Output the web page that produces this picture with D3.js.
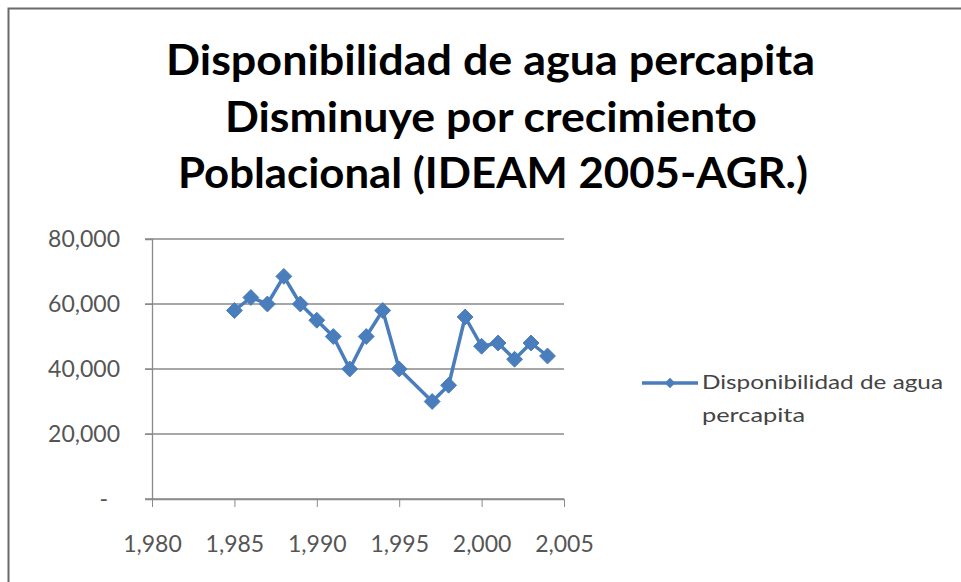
<!DOCTYPE html>
<html>
<head>
<meta charset="utf-8">
<script src="https://cdn.jsdelivr.net/npm/d3@7"></script>
<style>
  body { margin: 0; background: #fff; }
  svg { display: block; }
</style>
</head>
<body>
<div class="svg-container"></div>
<script>
(function () {

	"use strict";

	// data
	var years = [1985, 1986, 1987, 1988, 1989, 1990, 1991, 1992, 1993, 1994, 1995, 1997, 1998, 1999, 2000, 2001, 2002, 2003, 2004];
	var values = [58000, 62000, 60000, 68500, 60000, 55000, 50000, 40000, 50000, 58000, 40000, 30000, 35000, 56000, 47000, 48000, 43000, 48000, 44000];
	var x_ticks = [1980, 1985, 1990, 1995, 2000, 2005];
	var y_ticks = [0, 20000, 40000, 60000, 80000];
	var title_lines = ["Disponibilidad de agua percapita", "Disminuye por crecimiento", "Poblacional (IDEAM 2005-AGR.)"];
	var legend_lines = ["Disponibilidad de agua", "percapita"];

	var width = 961, height = 582,
		plot = { "left": 152, "right": 564, "top": 239, "bottom": 499 },
		blue = "#4a7dbb",
		grid = "#8a8a8a",
		font = "Lato, 'Open Sans', sans-serif";

	// title line placement (left edge, baseline, width) measured on the picture
	var title_pos = [[166, 75, 649], [225, 132, 532], [178, 188, 630]];

	var svg = d3.select(".svg-container").append("svg")
		.attr("width", width)
		.attr("height", height);

	// frame
	svg.append("rect")
		.attr("x", 8.5).attr("y", 8.5)
		.attr("width", width + 10).attr("height", height + 10)
		.attr("fill", "#fff")
		.attr("stroke", "#6a6a6a")
		.attr("stroke-width", 2);

	svg.selectAll(".title")
		.data(title_lines)
		.enter()
		.append("text")
		.attr("class", "title")
		.attr("x", function (d, i) { return title_pos[i][0]; })
		.attr("y", function (d, i) { return title_pos[i][1]; })
		.attr("textLength", function (d, i) { return title_pos[i][2]; })
		.attr("lengthAdjust", "spacingAndGlyphs")
		.attr("font-family", font)
		.attr("font-weight", "bold")
		.attr("font-size", 42)
		.attr("fill", "#000")
		.text(function (d) { return d; });

	var x = d3.scaleLinear().domain([1980, 2005]).range([plot.left, plot.right]);
	var y = d3.scaleLinear().domain([0, 80000]).range([plot.bottom, plot.top]);

	// gridlines
	svg.append("g")
		.selectAll("line")
		.data(y_ticks)
		.enter()
		.append("line")
		.attr("x1", plot.left - 7)
		.attr("x2", plot.right)
		.attr("y1", function (d) { return y(d); })
		.attr("y2", function (d) { return y(d); })
		.attr("stroke", grid)
		.attr("stroke-width", 1.3);

	var fmt = function (d) { return d === 0 ? "-" : d3.format(",")(d); };

	var y_axis = svg.append("g")
		.attr("transform", "translate(" + plot.left + ",0)")
		.call(d3.axisLeft(y).tickValues(y_ticks).tickFormat(fmt).tickSize(7).tickPadding(25));
	y_axis.select(".domain").attr("stroke", grid).attr("stroke-width", 1.3);
	y_axis.selectAll(".tick line").attr("stroke", grid);
	y_axis.selectAll("text")
		.attr("font-family", font)
		.attr("font-size", 23)
		.attr("fill", "#555")
		.attr("dx", function (d) { return d === 0 ? -12 : 0; });

	var x_axis = svg.append("g")
		.attr("transform", "translate(0," + plot.bottom + ")")
		.call(d3.axisBottom(x).tickValues(x_ticks).tickFormat(d3.format(",")).tickSize(8).tickSizeOuter(0).tickPadding(29));
	x_axis.select(".domain").attr("stroke", grid).attr("stroke-width", 1.3);
	x_axis.selectAll(".tick line").attr("stroke", grid);
	x_axis.selectAll("text")
		.attr("font-family", font)
		.attr("font-size", 23)
		.attr("fill", "#555");

	var points = years.map(function (d, i) { return { "year": d, "value": values[i] }; });

	svg.append("path")
		.datum(points)
		.attr("fill", "none")
		.attr("stroke", blue)
		.attr("stroke-width", 3.5)
		.attr("stroke-linejoin", "round")
		.attr("d", d3.line()
			.x(function (d) { return x(d.year); })
			.y(function (d) { return y(d.value); }));

	var diamond = d3.symbol().type(d3.symbolDiamond2).size(160);

	svg.append("g")
		.selectAll("path")
		.data(points)
		.enter()
		.append("path")
		.attr("transform", function (d) { return "translate(" + x(d.year) + "," + y(d.value) + ")"; })
		.attr("d", diamond)
		.attr("fill", blue)
		.attr("stroke", blue)
		.attr("stroke-width", 1);

	// legend
	var legend = svg.append("g").attr("transform", "translate(642,383)");
	legend.append("line")
		.attr("x1", 0).attr("x2", 56)
		.attr("stroke", blue)
		.attr("stroke-width", 3.5);
	legend.append("path")
		.attr("transform", "translate(28,0)")
		.attr("d", d3.symbol().type(d3.symbolDiamond2).size(70))
		.attr("fill", blue);
	var legend_len = [241, 103];
	legend.selectAll("text")
		.data(legend_lines)
		.enter()
		.append("text")
		.attr("x", 60)
		.attr("y", function (d, i) { return 6 + i * 33; })
		.attr("textLength", function (d, i) { return legend_len[i]; })
		.attr("lengthAdjust", "spacingAndGlyphs")
		.attr("font-family", font)
		.attr("font-size", 20)
		.attr("fill", "#444")
		.text(function (d) { return d; });

})();
</script>
</body>
</html>
